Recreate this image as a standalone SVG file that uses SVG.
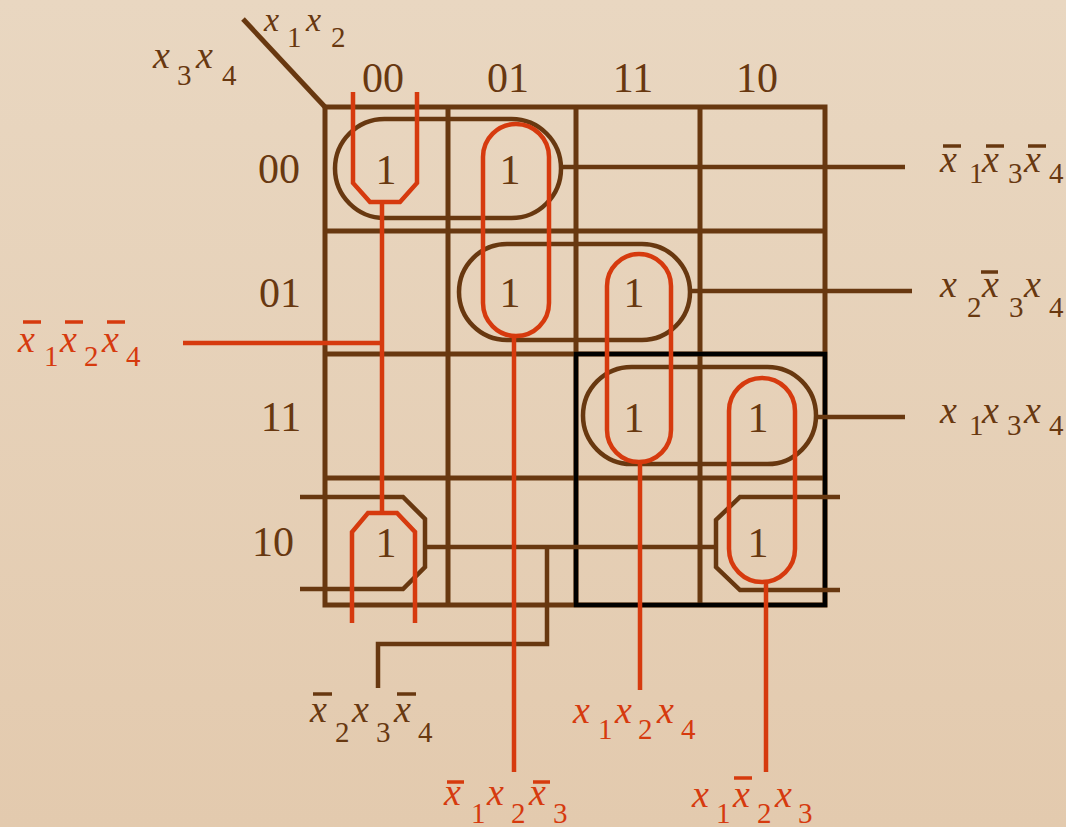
<svg xmlns="http://www.w3.org/2000/svg" width="1066" height="827" viewBox="0 0 1066 827" font-family="Liberation Serif, Times New Roman, DejaVu Serif, serif">
<defs>
<linearGradient id="bg" x1="0" y1="0" x2="0" y2="1">
<stop offset="0" stop-color="#E9D7C1"/>
<stop offset="1" stop-color="#E3CAAE"/>
</linearGradient>
<style>
.br{stroke:#683810;fill:none;stroke-width:4.5}
.gr{stroke:#683810;fill:none;stroke-width:5}
.rd{stroke:#D63A0E;fill:none;stroke-width:4.5}
.bk{stroke:#000;fill:none;stroke-width:4.5}
.x{font-style:italic;font-size:38px}
.s{font-size:29px}
.d{font-size:42px;fill:#683810;text-anchor:middle}
.tb{fill:#683810}
.tr{fill:#D63A0E}
.ob{stroke-width:3.5}
</style>
</defs>
<rect width="1066" height="827" fill="url(#bg)"/>

<g id="grid">
<line class="gr" x1="243" y1="19" x2="325" y2="107"/>
<rect class="gr" x="325" y="107" width="500" height="498"/>
<line class="gr" x1="448" y1="107" x2="448" y2="605"/>
<line class="gr" x1="576" y1="107" x2="576" y2="605"/>
<line class="gr" x1="700" y1="107" x2="700" y2="605"/>
<line class="gr" x1="325" y1="231" x2="825" y2="231"/>
<line class="gr" x1="325" y1="354" x2="825" y2="354"/>
<line class="gr" x1="325" y1="478" x2="825" y2="478"/>
<rect class="bk" x="576" y="354" width="249" height="251"/>
</g>

<g id="axis-labels">
<text class="x tb" x="264" y="31" style="font-size:34px">x</text><text class="s tb" x="287" y="47">1</text>
<text class="x tb" x="306" y="31" style="font-size:34px">x</text><text class="s tb" x="331" y="47">2</text>
<text class="x tb" x="153" y="68">x</text><text class="s tb" x="177" y="85">3</text>
<text class="x tb" x="196" y="68">x</text><text class="s tb" x="222" y="85">4</text>
<text class="d" x="383" y="92">00</text>
<text class="d" x="508" y="92">01</text>
<text class="d" x="633" y="92">11</text>
<text class="d" x="757" y="92">10</text>
<text class="d" x="279" y="183">00</text>
<text class="d" x="280" y="307">01</text>
<text class="d" x="281" y="431">11</text>
<text class="d" x="273" y="556">10</text>
</g>

<g id="cells">
<text class="d" x="386" y="184">1</text>
<text class="d" x="510" y="184">1</text>
<text class="d" x="510" y="307">1</text>
<text class="d" x="634" y="307">1</text>
<text class="d" x="634" y="432">1</text>
<text class="d" x="758" y="432">1</text>
<text class="d" x="386" y="557">1</text>
<text class="d" x="758" y="557">1</text>
</g>

<g id="loop-x1n-x3n-x4n">
<rect class="br" x="335" y="119" width="226" height="99" rx="49.5"/>
</g>
<g id="loop-x2-x3n-x4">
<rect class="br" x="459" y="244" width="231" height="96" rx="48"/>
</g>
<g id="loop-x1-x3-x4">
<rect class="br" x="583" y="367" width="233" height="97" rx="48.5"/>
</g>
<g id="loop-x2n-x3-x4n">
<path class="br" d="M300,497 H403 L425,519 V567 L403,589 H300"/>
<path class="br" d="M840,497 H740 L716,520 V567 L740,590 H840"/>
</g>
<g id="loop-x1n-x2n-x4n">
<path class="rd" d="M353,92 V183 L370,202 H400 L417,183 V92"/>
<path class="rd" d="M352,623 V532 L368,513 H397 L415,532 V623"/>
</g>
<g id="loop-x1n-x2-x3n">
<rect class="rd" x="483" y="124" width="66" height="212" rx="33"/>
</g>
<g id="loop-x1-x2-x4">
<rect class="rd" x="607" y="254" width="64" height="208" rx="32"/>
</g>
<g id="loop-x1-x2n-x3">
<rect class="rd" x="729" y="378" width="66" height="204" rx="33"/>
</g>

<g id="connectors">
<line class="br" x1="561" y1="167" x2="905" y2="167"/>
<line class="br" x1="690" y1="291" x2="912" y2="291"/>
<line class="br" x1="816" y1="417" x2="905" y2="417"/>
<path class="br" d="M425,547 H716"/>
<path class="br" d="M547,547 V644 H378 V688"/>
<line class="rd" x1="382" y1="202" x2="382" y2="513"/>
<line class="rd" x1="183" y1="343" x2="382" y2="343"/>
<line class="rd" x1="514" y1="336" x2="514" y2="772"/>
<line class="rd" x1="640" y1="462" x2="640" y2="690"/>
<line class="rd" x1="766" y1="582" x2="766" y2="772"/>
</g>

<g id="term-x1n-x3n-x4n">
<text class="x tb" x="940" y="172">x</text><text class="s tb" x="969" y="183">1</text>
<text class="x tb" x="982" y="172">x</text><text class="s tb" x="1008" y="183">3</text>
<text class="x tb" x="1024" y="172">x</text><text class="s tb" x="1049" y="183">4</text>
<g class="ob" stroke="#683810"><line x1="943" y1="146" x2="961" y2="146"/><line x1="986" y1="146" x2="1004" y2="146"/><line x1="1028" y1="146" x2="1046" y2="146"/></g>
</g>
<g id="term-x2-x3n-x4">
<text class="x tb" x="940" y="297">x</text><text class="s tb" x="967" y="317">2</text>
<text class="x tb" x="982" y="297">x</text><text class="s tb" x="1009" y="317">3</text>
<text class="x tb" x="1024" y="297">x</text><text class="s tb" x="1049" y="317">4</text>
<g class="ob" stroke="#683810"><line x1="981" y1="272" x2="998" y2="272"/></g>
</g>
<g id="term-x1-x3-x4">
<text class="x tb" x="940" y="423">x</text><text class="s tb" x="969" y="435">1</text>
<text class="x tb" x="982" y="423">x</text><text class="s tb" x="1007" y="435">3</text>
<text class="x tb" x="1024" y="423">x</text><text class="s tb" x="1049" y="435">4</text>
</g>
<g id="term-x1n-x2n-x4n">
<text class="x tr" x="18" y="352">x</text><text class="s tr" x="44" y="366">1</text>
<text class="x tr" x="60" y="352">x</text><text class="s tr" x="84" y="366">2</text>
<text class="x tr" x="102" y="352">x</text><text class="s tr" x="126" y="366">4</text>
<g class="ob" stroke="#D63A0E"><line x1="23" y1="322" x2="41" y2="322"/><line x1="65" y1="322" x2="83" y2="322"/><line x1="107" y1="322" x2="125" y2="322"/></g>
</g>
<g id="term-x2n-x3-x4n">
<text class="x tb" x="310" y="722">x</text><text class="s tb" x="335" y="742">2</text>
<text class="x tb" x="352" y="722">x</text><text class="s tb" x="376" y="742">3</text>
<text class="x tb" x="394" y="722">x</text><text class="s tb" x="418" y="742">4</text>
<g class="ob" stroke="#683810"><line x1="313" y1="694" x2="332" y2="694"/><line x1="397" y1="694" x2="416" y2="694"/></g>
</g>
<g id="term-x1n-x2-x3n">
<text class="x tr" x="444" y="805">x</text><text class="s tr" x="471" y="823">1</text>
<text class="x tr" x="487" y="805">x</text><text class="s tr" x="511" y="823">2</text>
<text class="x tr" x="529" y="805">x</text><text class="s tr" x="553" y="823">3</text>
<g class="ob" stroke="#D63A0E"><line x1="447" y1="782" x2="464" y2="782"/><line x1="533" y1="782" x2="550" y2="782"/></g>
</g>
<g id="term-x1-x2-x4">
<text class="x tr" x="573" y="723">x</text><text class="s tr" x="598" y="739">1</text>
<text class="x tr" x="615" y="723">x</text><text class="s tr" x="638" y="739">2</text>
<text class="x tr" x="657" y="723">x</text><text class="s tr" x="681" y="739">4</text>
</g>
<g id="term-x1-x2n-x3">
<text class="x tr" x="692" y="807">x</text><text class="s tr" x="716" y="823">1</text>
<text class="x tr" x="733" y="807">x</text><text class="s tr" x="757" y="823">2</text>
<text class="x tr" x="775" y="807">x</text><text class="s tr" x="798" y="823">3</text>
<g class="ob" stroke="#D63A0E"><line x1="734" y1="778" x2="752" y2="778"/></g>
</g>
</svg>
